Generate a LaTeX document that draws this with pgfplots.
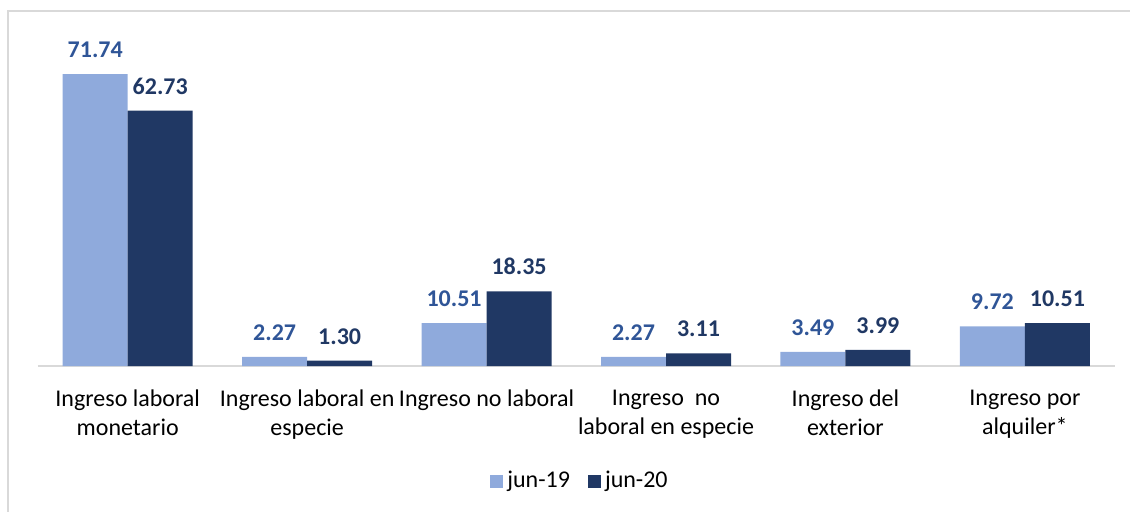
\documentclass[border=0pt]{standalone}
\usepackage{fontspec}
\setmainfont{Carlito}
\usepackage{pgfplots}
\pgfplotsset{compat=1.18}
\definecolor{lightbar}{HTML}{8FAADC}
\definecolor{darkbar}{HTML}{203864}
\definecolor{lightlab}{HTML}{2F5597}
\definecolor{framec}{HTML}{D9D9D9}
\begin{document}
\fontsize{12}{14.5}\selectfont
\begin{tikzpicture}
\useasboundingbox (0,0) rectangle (565pt,255.5pt);
\draw[framec, line width=0.7pt] (4pt,-10pt) -- (4pt,250pt) -- (580pt,250pt);
\begin{axis}[
  at={(19pt,72.5pt)}, anchor=south west,
  scale only axis, width=538.3pt, height=162.8pt,
  xmin=-0.5, xmax=5.5, ymin=0, ymax=80,
  ybar=0pt, bar width=32.5pt,
  axis y line=none, axis x line*=bottom,
  x axis line style={draw=framec, line width=1pt, -},
  xtick=data, xtick style={draw=none},
  xticklabels={{Ingreso laboral\\monetario},{Ingreso laboral en\\especie},{Ingreso no laboral},{Ingreso~ no\\laboral en especie},{Ingreso del\\exterior},{Ingreso por\\alquiler*}},
  xticklabel style={align=center, font=\fontsize{12}{14.5}\selectfont, anchor=north, inner sep=0pt, yshift=-7.5pt, text=black},
  nodes near coords={\pgfmathprintnumber[fixed,fixed zerofill,precision=2,assume math mode=true]{\pgfplotspointmeta}},
  nodes near coords style={font=\fontsize{12}{14.5}\selectfont\bfseries, anchor=south, inner sep=0pt, yshift=8pt},
  legend columns=2,
  legend style={draw=none, fill=none, at={(0.5044,-0.3532)}, anchor=center, font=\fontsize{12}{14.5}\selectfont, /tikz/every even column/.append style={column sep=7pt}},
  legend image code/.code={\fill[#1] (0pt,-3.25pt) rectangle (6.5pt,3.25pt);},
]
\addplot[fill=lightbar, draw=none, every node near coord/.append style={text=lightlab}] coordinates {(0,71.74) (1,2.27) (2,10.51) (3,2.27) (4,3.49) (5,9.72)};
\addplot[fill=darkbar, draw=none, every node near coord/.append style={text=darkbar}] coordinates {(0,62.73) (1,1.30) (2,18.35) (3,3.11) (4,3.99) (5,10.51)};
\legend{jun-19,jun-20}
\end{axis}
\end{tikzpicture}
\end{document}
